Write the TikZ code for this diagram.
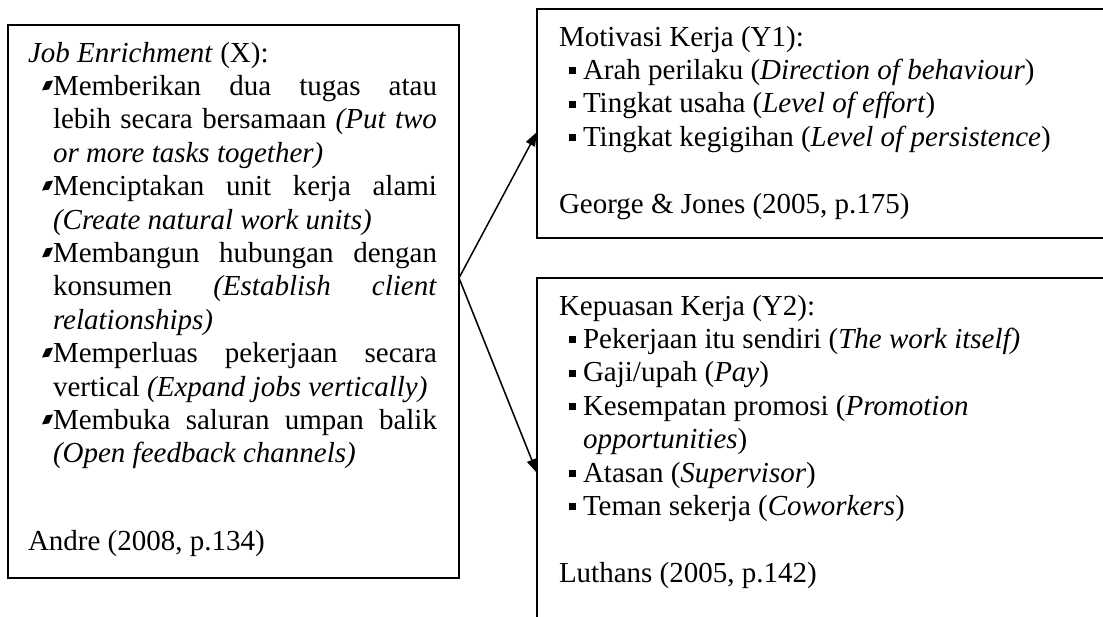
\documentclass[tikz,border=0pt]{standalone}
\usepackage{fontspec}
\setmainfont{Liberation Serif}
\usetikzlibrary{arrows.meta}
\newcommand{\jl}[1]{\makebox[384pt][s]{#1}}
\begin{document}
\begin{tikzpicture}[x=1pt,y=-1pt,
  box/.style={draw, line width=2pt, rectangle, inner sep=0pt, outer sep=0pt},
  txt/.style={anchor=base west, inner sep=0pt, outer sep=0pt, font=\fontsize{29}{33.4}\selectfont},
  arr/.style={line width=1.5pt, -{Triangle[length=14pt,width=10pt]}},
]
\useasboundingbox (0,0) rectangle (1103,616);
\fill[white] (0,0) rectangle (1103,616);
\clip (0,0) rectangle (1103,616);

% boxes
\node[box, minimum width=451pt, minimum height=553pt] (X) at (233.5,301.5) {};
\node[box, minimum width=613pt, minimum height=229pt] (Y1) at (843.5,123.5) {};
\node[box, minimum width=613pt, minimum height=422pt] (Y2) at (843.5,489) {};

% arrows
\coordinate (src) at (459,278);
\draw[arr] (src) -- ([yshift=-8.5pt]Y1.west);
\draw[arr] (src) -- ([yshift=16pt]Y2.west);

% left box text
\node[txt] (x0) at (28,62) {\textit{Job Enrichment} (X):};
\node[txt] (x1) at (53,95.4) {\jl{Memberikan dua tugas atau}};
\node[txt] (x2) at (53,128.8) {\jl{lebih secara bersamaan \textit{(Put two}}};
\node[txt] (x3) at (53,162.2) {\textit{or more tasks together)}};
\node[txt] (x4) at (53,195.6) {\jl{Menciptakan unit kerja alami}};
\node[txt] (x5) at (53,229) {\textit{(Create natural work units)}};
\node[txt] (x6) at (53,262.4) {\jl{Membangun hubungan dengan}};
\node[txt] (x7) at (53,295.8) {\jl{konsumen \textit{(Establish client}}};
\node[txt] (x8) at (53,329.2) {\textit{relationships)}};
\node[txt] (x9) at (53,362.6) {\jl{Memperluas pekerjaan secara}};
\node[txt] (x10) at (53,396) {vertical \textit{(Expand jobs vertically)}};
\node[txt] (x11) at (53,429.4) {\jl{Membuka saluran umpan balik}};
\node[txt] (x12) at (53,462.8) {\textit{(Open feedback channels)}};
\node[txt] (xr) at (28,550) {Andre (2008, p.134)};
\foreach \n in {x1,x4,x6,x9,x11}
  \fill ([shift={(-11,-5)}]\n.base west) -- ++(4,-9) -- ++(7,-1) -- ++(-4,9) -- cycle;

% right top text
\node[txt] (a0) at (559,46) {Motivasi Kerja (Y1):};
\node[txt] (a1) at (583,79.4) {Arah perilaku (\textit{Direction of behaviour})};
\node[txt] (a2) at (583,112.8) {Tingkat usaha (\textit{Level of effort})};
\node[txt] (a3) at (583,146.2) {Tingkat kegigihan (\textit{Level of persistence})};
\node[txt] (ar) at (559,213) {George \& Jones (2005, p.175)};

% right bottom text
\node[txt] (b0) at (559,315) {Kepuasan Kerja (Y2):};
\node[txt] (b1) at (583,348.4) {Pekerjaan itu sendiri (\textit{The work itself)}};
\node[txt] (b2) at (583,381.8) {Gaji/upah (\textit{Pay})};
\node[txt] (b3) at (583,415.2) {Kesempatan promosi (\textit{Promotion}};
\node[txt] (b4) at (583,448.6) {\textit{opportunities})};
\node[txt] (b5) at (583,482) {Atasan (\textit{Supervisor})};
\node[txt] (b6) at (583,515.4) {Teman sekerja (\textit{Coworkers})};
\node[txt] (br) at (559,582.2) {Luthans (2005, p.142)};
\foreach \n in {a1,a2,a3,b1,b2,b3,b5,b6}
  \fill ([shift={(-14,-5)}]\n.base west) rectangle ++(7,-7);
\end{tikzpicture}
\end{document}
